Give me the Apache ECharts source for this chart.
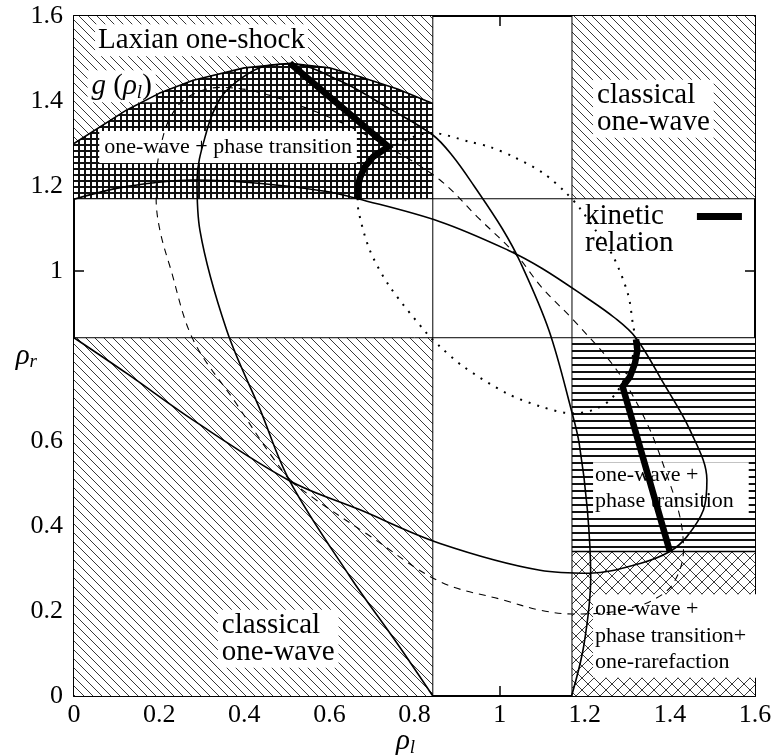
<!DOCTYPE html>
<html><head><meta charset="utf-8">
<script src="https://cdn.jsdelivr.net/npm/echarts@6/dist/echarts.min.js"></script>
<style>html,body{margin:0;padding:0;background:#fff}#c{width:778px;height:755px}</style>
</head><body><div id="c"></div>
<script>
// ---------------- data ----------------
const xTickLabels = ['0','0.2','0.4','0.6','0.8','1','1.2','1.4','1.6'];
const yTickLabels = ['0','0.2','0.4','0.6','','1','1.2','1.4','1.6'];
const phaseBounds = [0.843, 1.17];       // region boundaries (both axes)
const rarefactionBound = 0.34;           // lower limit of phase-transition zone
const gCurve = [[0,1.30],[0.124,1.379],[0.2,1.418],[0.28,1.449],[0.4,1.478],[0.5075,1.489],[0.6,1.478],[0.672,1.457],[0.76,1.428],[0.843,1.394]];
const gammaLeft = [[0,1.169],[0.12,1.198],[0.28,1.214],[0.44,1.206],[0.594,1.187],[0.667,1.17],[0.86,1.116],[1.02,1.049],[1.1,1.006],[1.2,0.94],[1.27,0.89],[1.32,0.843],[1.385,0.736],[1.447,0.626],[1.487,0.508],[1.479,0.438],[1.44,0.375],[1.40,0.34],[1.33,0.312],[1.212,0.289],[1.095,0.296],[0.86,0.359],[0.672,0.438],[0.5075,0.506],[0.28,0.649],[0.124,0.759],[0,0.843]];
const gammaRight = [[1.169,0],[1.198,0.12],[1.214,0.28],[1.206,0.44],[1.187,0.594],[1.17,0.667],[1.116,0.86],[1.049,1.02],[1.006,1.1],[0.94,1.2],[0.89,1.27],[0.843,1.32],[0.736,1.385],[0.626,1.447],[0.508,1.487],[0.438,1.479],[0.375,1.44],[0.34,1.40],[0.312,1.33],[0.289,1.212],[0.296,1.095],[0.359,0.86],[0.438,0.672],[0.506,0.5075],[0.649,0.28],[0.759,0.124],[0.843,0]];
const dashedLoop = [[0.5075,0.506],[0.45,0.585],[0.38,0.69],[0.28,0.838],[0.2256,1.01],[0.202,1.095],[0.193,1.17],[0.195,1.24],[0.205,1.3],[0.226,1.361],[0.265,1.408],[0.343,1.432],[0.42,1.424],[0.52,1.393],[0.633,1.347],[0.75,1.285],[0.86,1.214],[0.95,1.125],[1.04,1.037],[1.1,0.96],[1.173,0.885],[1.275,0.767],[1.346,0.642],[1.393,0.52],[1.424,0.42],[1.432,0.343],[1.408,0.265],[1.361,0.226],[1.3,0.205],[1.24,0.195],[1.17,0.193],[1.095,0.202],[1.01,0.2256],[0.86,0.269],[0.69,0.38],[0.585,0.45],[0.5075,0.506]];
const dottedLoop = [[0.6665,1.17],[0.673,1.22],[0.696,1.259],[0.74,1.29],[0.84,1.325],[0.93,1.304],[0.977,1.292],[1.032,1.269],[1.103,1.23],[1.157,1.183],[1.189,1.147],[1.228,1.092],[1.267,1.034],[1.302,0.944],[1.314,0.869],[1.32,0.84],[1.29,0.74],[1.259,0.696],[1.22,0.673],[1.17,0.665],[1.1,0.68],[1.017,0.712],[0.915,0.775],[0.86,0.822],[0.829,0.853],[0.742,0.963],[0.695,1.049],[0.668,1.144],[0.6665,1.17]];
const kineticUpper = [[0.5075,1.489],[0.7385,1.2925],[0.703,1.269],[0.683,1.245],[0.672,1.22],[0.667,1.198],[0.6665,1.169]];
const kineticLower = [[1.3205,0.839],[1.3236,0.814],[1.318,0.783],[1.306,0.751],[1.289,0.728],[1.40,0.34]];

// ---------------- styling helpers ----------------
const FONT = '"Liberation Serif","Times New Roman",serif';
function makePattern(kind){
  const s = {diag:9, grid:6, hor:7, cross:12}[kind];
  const c = document.createElement('canvas'); c.width = s; c.height = s;
  const g = c.getContext('2d');
  g.fillStyle = '#fff'; g.fillRect(0,0,s,s);
  g.fillStyle = '#000'; g.strokeStyle = '#000';
  if (kind === 'diag') {
    g.lineWidth = 0.9; g.strokeStyle = '#222';
    for (const o of [-s,0,s]) { g.beginPath(); g.moveTo(o,0); g.lineTo(o+s,s); g.stroke(); }
  } else if (kind === 'grid') {
    g.fillStyle = '#111'; g.fillRect(0,0,s,2); g.fillRect(0,0,2,s);
  } else if (kind === 'hor') {
    g.fillStyle = '#111'; g.fillRect(0,0,s,2);
  } else if (kind === 'cross') {
    g.lineWidth = 0.9; g.strokeStyle = '#222';
    for (const o of [-s,0,s]) {
      g.beginPath(); g.moveTo(o,0); g.lineTo(o+s,s); g.stroke();
      g.beginPath(); g.moveTo(o+s,0); g.lineTo(o,s); g.stroke();
    }
  }
  return {image:c, repeat:'repeat'};
}
const patterns = {diag:makePattern('diag'), grid:makePattern('grid'), hor:makePattern('hor'), cross:makePattern('cross')};

const A = phaseBounds[0], B = phaseBounds[1], TOP = 1.6, R = 1.6;
function rect(x0,x1,y0,y1){ return [[x0,y0],[x1,y0],[x1,y1],[x0,y1]]; }
const regions = [
  {poly: rect(0,A,B,TOP), pat:'diag'},
  {poly: gCurve.concat([[A,B],[0,B]]), pat:'grid'},
  {poly: rect(B,R,B,TOP), pat:'diag'},
  {poly: rect(0,A,0,A), pat:'diag'},
  {poly: rect(B,R,rarefactionBound,A), pat:'hor'},
  {poly: rect(B,R,0,rarefactionBound), pat:'cross'}
];

const rich = {
  i:{fontFamily:FONT, fontStyle:'italic', fontSize:29, color:'#000', lineHeight:32},
  n:{fontFamily:FONT, fontSize:29, color:'#000', lineHeight:32},
  s:{fontFamily:FONT, fontStyle:'italic', fontSize:19, color:'#000', lineHeight:22, verticalAlign:'bottom', padding:[14,0,0,0]}
};
const labels = [
  {text:'Laxian one-shock', at:[0.2996,1.543], align:'center', size:29, lh:32, pad:[0,3,0,3]},
  {text:'{i|g} {n|(}{i|ρ}{s|l}{n|)}', rich:true, at:[0.112,1.435], align:'center', size:29, lh:32, pad:[0,4,0,4]},
  {text:'one-wave + phase transition', at:[0.362,1.292], align:'center', size:22, lh:26, pad:[3,5,3,5]},
  {text:'classical\none-wave', at:[1.2195,1.382], align:'left', size:29, lh:27, pad:[2,4,2,4]},
  {text:'relation', at:[1.2007,1.066], align:'left', size:29, lh:27, pad:0, bg:'transparent'},
  {text:'classical\none-wave', at:[0.338,0.135], align:'left', size:29, lh:27, pad:[2,4,2,4]},
  {text:'one-wave +\nphase transition', at:[1.2195,0.489], align:'left', size:22, lh:26, pad:[0,15,0,2]},
  {text:'one-wave +\nphase transition+\none-rarefaction', at:[1.2195,0.141], align:'left', size:22, lh:26.5, pad:[1,15,3,2]}
];

function lineSeries(name, data, style, extra){
  return Object.assign({type:'line', name, data, showSymbol:false, symbol:'none', silent:true, clip:true,
    lineStyle:Object.assign({color:'#000', width:1.5}, style), z:4}, extra||{});
}

const axisCommon = {min:0, max:1.6, interval:0.2, splitLine:{show:false},
  axisLine:{show:true, onZero:false, lineStyle:{color:'#000', width:2}},
  axisTick:{show:true, inside:true, length:10, lineStyle:{color:'#000', width:1.5}}};
const nameRich = {i:{fontFamily:FONT, fontStyle:'italic', fontSize:29, color:'#000'}, s:{fontFamily:FONT, fontStyle:'italic', fontSize:19, color:'#000', padding:[12,0,0,0]}};

const chart = echarts.init(document.getElementById('c'), null, {renderer:'canvas'});
chart.setOption({
  animation:false,
  backgroundColor:'#fff',
  grid:{left:74, right:23, top:16, bottom:59, containLabel:false, outerBoundsMode:'none'},
  xAxis:[
    Object.assign({type:'value', position:'bottom',
      axisLabel:{fontFamily:FONT, fontSize:26, color:'#000', margin:6, formatter:v=>xTickLabels[Math.round(v/0.2)]},
      name:'{i|ρ}{s|l}', nameLocation:'middle', nameGap:30, nameMoveOverlap:false,
      nameTextStyle:{rich:nameRich, padding:[0,18,0,0]}
    }, axisCommon),
    Object.assign({type:'value', position:'top', axisLabel:{show:false}}, axisCommon)
  ],
  yAxis:[
    Object.assign({type:'value', position:'left',
      axisLabel:{fontFamily:FONT, fontSize:26, color:'#000', margin:11, formatter:v=>yTickLabels[Math.round(v/0.2)]},
      name:'{i|ρ}{s|r}', nameLocation:'middle', nameRotate:0, nameGap:37, nameMoveOverlap:false,
      nameTextStyle:{rich:nameRich}
    }, axisCommon),
    Object.assign({type:'value', position:'right', axisLabel:{show:false}}, axisCommon)
  ],
  legend:{data:['kinetic relation'], left:585, top:202, padding:0, align:'right', icon:'rect',
    itemWidth:45, itemHeight:7, selectedMode:false,
    formatter:()=> 'kinetic',
    textStyle:{fontFamily:FONT, fontSize:29, lineHeight:27, color:'#000', padding:[0,28,0,0]}},
  series:[
    {type:'custom', name:'regions', coordinateSystem:'cartesian2d', silent:true, z:1,
      data: regions.map(()=>[0,0]),
      renderItem:(params, api)=>{
        const r = regions[params.dataIndex];
        return {type:'polygon', shape:{points:r.poly.map(p=>api.coord(p))}, style:{fill:patterns[r.pat], stroke:null}};
      }},
    lineSeries('xb0', [[A,0],[A,TOP]], {width:1}, {z:2}),
    lineSeries('xb1', [[B,0],[B,TOP]], {width:1}, {z:2}),
    lineSeries('yb0', [[0,A],[R,A]], {width:1}, {z:2}),
    lineSeries('yb1', [[0,B],[R,B]], {width:1}, {z:2}),
    lineSeries('rb', [[B,rarefactionBound],[R,rarefactionBound]], {width:1.5}, {z:2}),
    {type:'custom', name:'labels', coordinateSystem:'cartesian2d', silent:true, z:3,
      data: labels.map(()=>[0,0]),
      renderItem:(params, api)=>{
        const L = labels[params.dataIndex];
        const p = api.coord(L.at);
        const style = {text:L.text, fontFamily:FONT, fontSize:L.size, fill:'#000', align:L.align,
          verticalAlign:'middle', lineHeight:L.lh, backgroundColor:L.bg || '#fff', padding:L.pad};
        if (L.rich) style.rich = rich;
        return {type:'text', x:p[0], y:p[1], style};
      }},
    lineSeries('g', gCurve, {width:1.6}),
    lineSeries('gammaLeft', gammaLeft, {width:1.6}, {smooth:0.35}),
    lineSeries('gammaRight', gammaRight, {width:1.6}, {smooth:0.35}),
    lineSeries('dashed', dashedLoop, {width:1.1, type:[7,6]}, {smooth:0.35}),
    lineSeries('dotted', dottedLoop, {width:2, type:[2,7]}, {smooth:0.3}),
    lineSeries('kinetic relation', kineticUpper, {width:6.5, cap:'butt', join:'miter'}, {z:5, itemStyle:{color:'#000'}}),
    lineSeries('kinetic relation', kineticLower, {width:6.5, cap:'butt', join:'miter'}, {z:5, itemStyle:{color:'#000'}})
  ]
});
</script></body></html>
